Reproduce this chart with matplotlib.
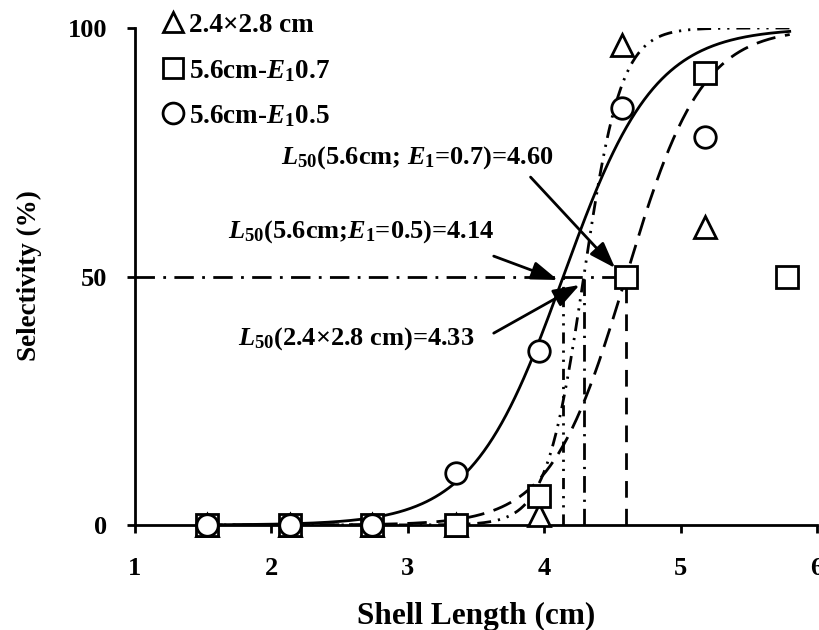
import numpy as np
import matplotlib
matplotlib.use("Agg")
import matplotlib.pyplot as plt

plt.rcParams['font.family'] = ['Liberation Serif', 'DejaVu Serif']
plt.rcParams['font.weight'] = 'bold'
plt.rcParams['mathtext.fontset'] = 'custom'
plt.rcParams['mathtext.rm'] = 'Liberation Serif:bold'
plt.rcParams['mathtext.it'] = 'Liberation Serif:bold:italic'
plt.rcParams['mathtext.bf'] = 'Liberation Serif:bold'

# ---- data ----
x_tri = [1.53, 2.14, 2.74, 3.35, 3.96, 4.57, 5.18]
y_tri = [0, 0, 0, 0, 2, 96.5, 60]
x_sq = [1.53, 2.14, 2.74, 3.35, 3.96, 4.60, 5.18, 5.78]
y_sq = [0, 0, 0, 0, 5.8, 50, 91, 50]
x_ci = [1.53, 2.14, 2.74, 3.35, 3.96, 4.57, 5.18]
y_ci = [0, 0, 0, 10.5, 35, 84, 78]

# fitted logistic selectivity curves: L50 (as drawn) and slope
L50_tri, k_tri = 4.29, 7.3
L50_e07, k_e07 = 4.60, 3.6
L50_e05, k_e05 = 4.14, 3.0
curve_range = (1.5, 5.8)

labels = ["2.4\u00d72.8 cm", "5.6cm-$E_1$0.7", "5.6cm-$E_1$0.5"]
legend_markers = ['^', 's', 'o']
ann_texts = ["$L_{50}$(5.6cm; $E_1$=0.7)=4.60",
             "$L_{50}$(5.6cm;$E_1$=0.5)=4.14",
             "$L_{50}$(2.4\u00d72.8 cm)=4.33"]
xticks = [1, 2, 3, 4, 5, 6]
yticks = [0, 50, 100]

W, H = 819, 630
fig = plt.figure(figsize=(W/100, H/100), dpi=100)
ax = fig.add_axes([135/W, 1-525/H, (817-135)/W, (525-28)/H])
ax.set_xlim(1, 6)
ax.set_ylim(0, 100)

def logistic(x, L50, k):
    return 100.0 / (1.0 + np.exp(-k * (x - L50)))

xc = np.linspace(curve_range[0], curve_range[1], 400)
lw = 2.0
ax.plot(xc, logistic(xc, L50_e05, k_e05), color='black', lw=lw, ls='-')
ax.plot(xc, logistic(xc, L50_e07, k_e07), color='black', lw=lw, ls=(0, (7, 3.5)))
ax.plot(xc, logistic(xc, L50_tri, k_tri), color='black', lw=lw,
        ls=(0, (5, 2.5, 0.8, 2.5, 0.8, 2.5)))

# reference lines at L50
ax.plot([1, L50_e07], [50, 50], color='black', lw=lw, ls=(0, (7, 3, 1, 3)))
ax.plot([L50_e05, L50_e05], [0, 50], color='black', lw=lw, ls=(0, (4, 2.5, 0.8, 2.5, 0.8, 2.5)))
ax.plot([L50_tri, L50_tri], [0, 50], color='black', lw=lw, ls=(0, (6, 2.5, 0.8, 2.5)))
ax.plot([L50_e07, L50_e07], [0, 50], color='black', lw=lw, ls=(0, (6, 4)))

ms = 15.5
mk = dict(ls='none', mfc='white', mec='black', mew=2.0, ms=ms, clip_on=False, zorder=5)
ax.plot(x_tri, y_tri, marker='^', **mk)
ax.plot(x_sq, y_sq, marker='s', **mk)
ax.plot(x_ci, y_ci, marker='o', **mk)

# annotations
fs_ann = 19
ax.text(3.07, 74.0, ann_texts[0], fontsize=fs_ann, ha='center', va='center')
ax.text(2.66, 59.0, ann_texts[1], fontsize=fs_ann, ha='center', va='center')
ax.text(2.62, 37.6, ann_texts[2], fontsize=fs_ann, ha='center', va='center')
ap = dict(arrowstyle='-|>,head_length=0.8,head_width=0.28', color='black', lw=2,
          shrinkA=0, shrinkB=0, mutation_scale=20)
ax.annotate('', xy=(4.52, 51.7), xytext=(3.90, 70.0), arrowprops=ap)
ax.annotate('', xy=(4.10, 49.3), xytext=(3.63, 54.1), arrowprops=ap)
ax.annotate('', xy=(4.26, 48.3), xytext=(3.63, 38.6), arrowprops=ap)

# axes styling
for s in ['top', 'right']:
    ax.spines[s].set_visible(False)
for s in ['left', 'bottom']:
    ax.spines[s].set_linewidth(2.0)
ax.set_xticks(xticks)
ax.set_yticks(yticks)
ax.tick_params(axis='both', direction='out', length=6, width=2, labelsize=19)
ax.tick_params(axis='x', pad=17)
ax.tick_params(axis='y', pad=14)
ax.set_xlabel("Shell Length (cm)", fontsize=22.5, fontweight='bold')
ax.xaxis.set_label_coords(0.5, (525-624)/497)
ax.xaxis.label.set_va('baseline')
ax.set_ylabel("Selectivity (%)", fontsize=19.5, fontweight='bold')
ax.yaxis.set_label_coords((29-135)/682, (525-276)/497)
ax.yaxis.label.set_va('center')

# legend (marker + label rows at top-left, above the plot)
leg_rows_px = [22, 68, 113]
for m, lab, ypx in zip(legend_markers, labels, leg_rows_px):
    ax.plot([173/W], [1-ypx/H], transform=fig.transFigure, marker=m, ls='none',
            mfc='white', mec='black', mew=2, ms=15, clip_on=False)
    fig.text(189/W, 1-ypx/H, lab, fontsize=19.5, ha='left', va='center_baseline')

fig.savefig("out.png", dpi=100)
